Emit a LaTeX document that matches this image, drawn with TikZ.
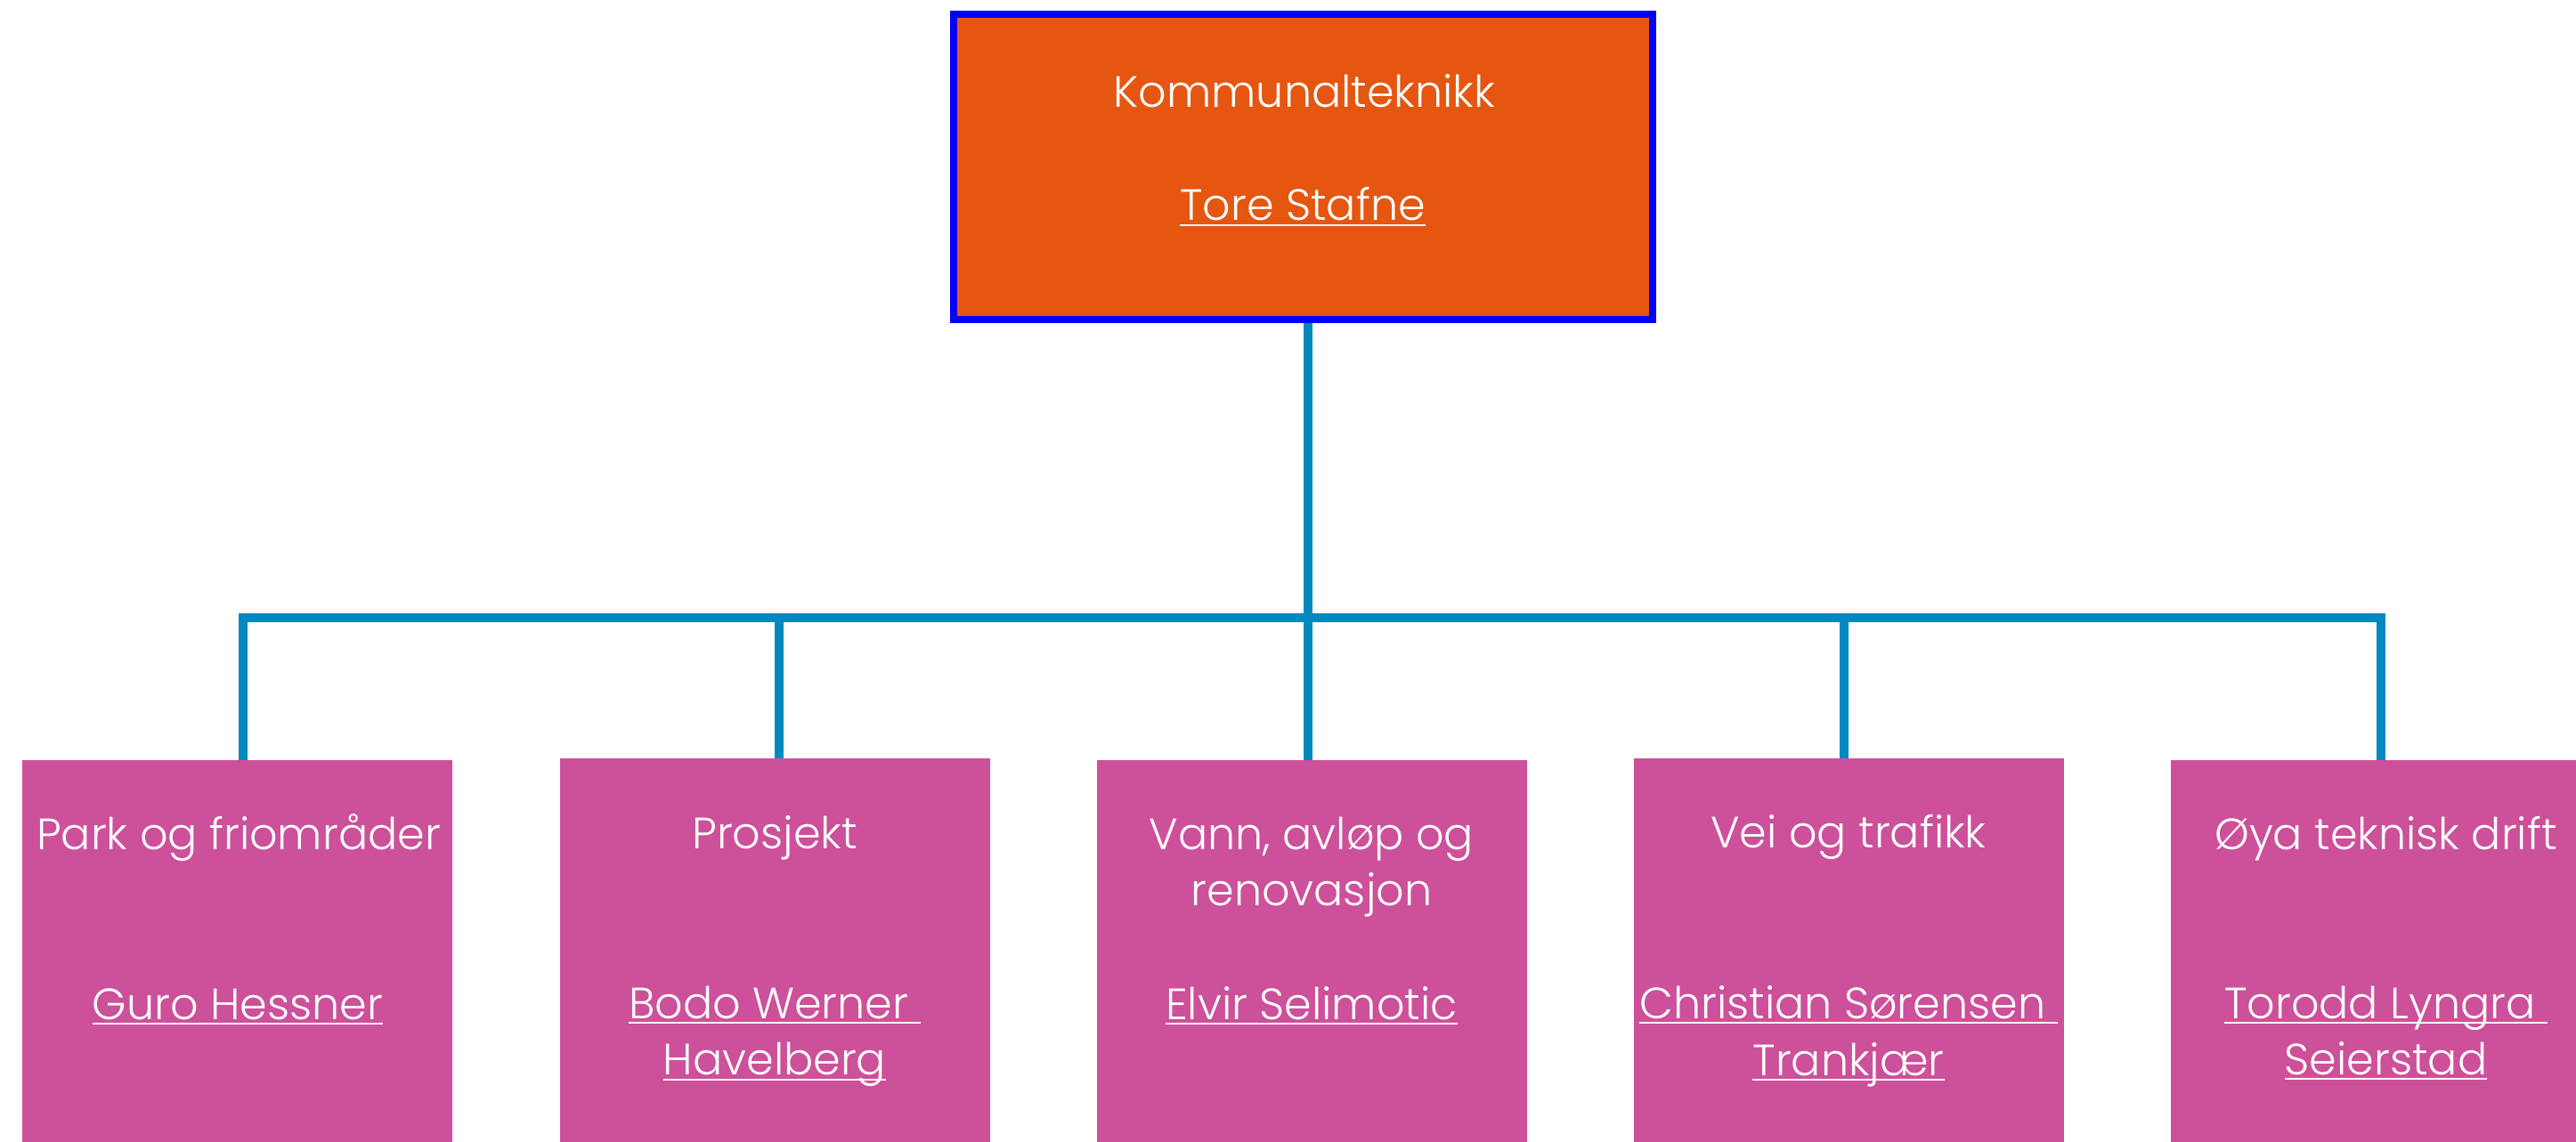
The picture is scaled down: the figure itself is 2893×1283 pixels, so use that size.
\documentclass[tikz,border=0pt]{standalone}
\usepackage{fontspec}
\setmainfont{Poppins Light}
\usetikzlibrary{backgrounds}
\definecolor{orgfill}{RGB}{229,86,16}
\definecolor{orgblue}{RGB}{0,0,255}
\definecolor{pinkbox}{RGB}{205,80,154}
\definecolor{connblue}{RGB}{0,137,192}
\newcommand\txtfont{\fontsize{12.3pt}{15.9pt}\selectfont}
\newcommand\ulx[1]{\setbox0\hbox{#1}\rlap{\rule[-1.6pt]{\wd0}{0.6pt}}\box0}
\tikzset{
  conn/.style={draw=connblue, line width=2.5pt},
  topbox/.style={draw=orgblue, line width=2pt, fill=orgfill, minimum width=196.2pt, minimum height=85.7pt, inner sep=0pt, outer sep=0pt},
  unitbox/.style={fill=pinkbox, minimum width=120.75pt, minimum height=125pt, inner sep=0pt, outer sep=0pt, anchor=north},
  lbl/.style={text=white, anchor=base, inner sep=0pt, font=\txtfont},
}
\begin{document}
\begin{tikzpicture}[x=0.25pt, y=-0.25pt]
\useasboundingbox (0,0) rectangle (2893,1283);
\begin{scope}
\clip (0,0) rectangle (2893,1283);
% top box
\node[topbox] (top) at (1463.6,187.9) {};
\node[lbl] (topt) at (1465,121) {Kommunalteknikk};
\node[lbl] (topn) at (1463,248) {\ulx{Tore Stafne}};
% unit boxes
\node[unitbox] (box1) at (266.5,854) {};
\node[unitbox] (box2) at (870,852) {};
\node[unitbox] (box3) at (1473.5,854) {};
\node[unitbox] (box4) at (2076,852) {};
\node[unitbox] (box5) at (2679.5,854) {};
% labels
\node[lbl] (b1t) at (268,954) {Park og friområder};
\node[lbl] (b1n) at (267,1145) {\ulx{Guro Hessner}};
\node[lbl] (b2t) at (870,953) {Prosjekt};
\node[lbl] (b2n) at (870,1144) {\ulx{Bodo Werner\ }};
\node[lbl] (b2m) at (870,1207.5) {\ulx{Havelberg}};
\node[lbl] (b3t) at (1473,954) {Vann, avløp og};
\node[lbl] (b3u) at (1473,1017.6) {renovasjon};
\node[lbl] (b3n) at (1473,1145) {\ulx{Elvir Selimotic}};
\node[lbl] (b4t) at (2076,952) {Vei og trafikk};
\node[lbl] (b4n) at (2076,1144) {\ulx{Christian Sørensen\ }};
\node[lbl] (b4m) at (2076,1208) {\ulx{Trankjær}};
\node[lbl] (b5t) at (2679.5,954) {Øya teknisk drift};
\node[lbl] (b5n) at (2679.5,1144) {\ulx{Torodd Lyngra\ }};
\node[lbl] (b5m) at (2679.5,1207) {\ulx{Seierstad}};
% connectors
\coordinate (j0) at (1468.5,694);
\coordinate (j1) at (272.5,694);
\coordinate (j2) at (875,694);
\coordinate (j4) at (2070.5,694);
\coordinate (j5) at (2674,694);
\begin{pgfonlayer}{background}
\fill[white] (0,0) rectangle (2893,1283);
\draw[conn] (j0 |- top.south) -- (j0 |- box3.north);
\draw[conn] (j1 |- box1.north) -- (j1) -- (j5) -- (j5 |- box5.north);
\draw[conn] (j2) -- (j2 |- box2.north);
\draw[conn] (j4) -- (j4 |- box4.north);
\end{pgfonlayer}
\end{scope}
\end{tikzpicture}
\end{document}
